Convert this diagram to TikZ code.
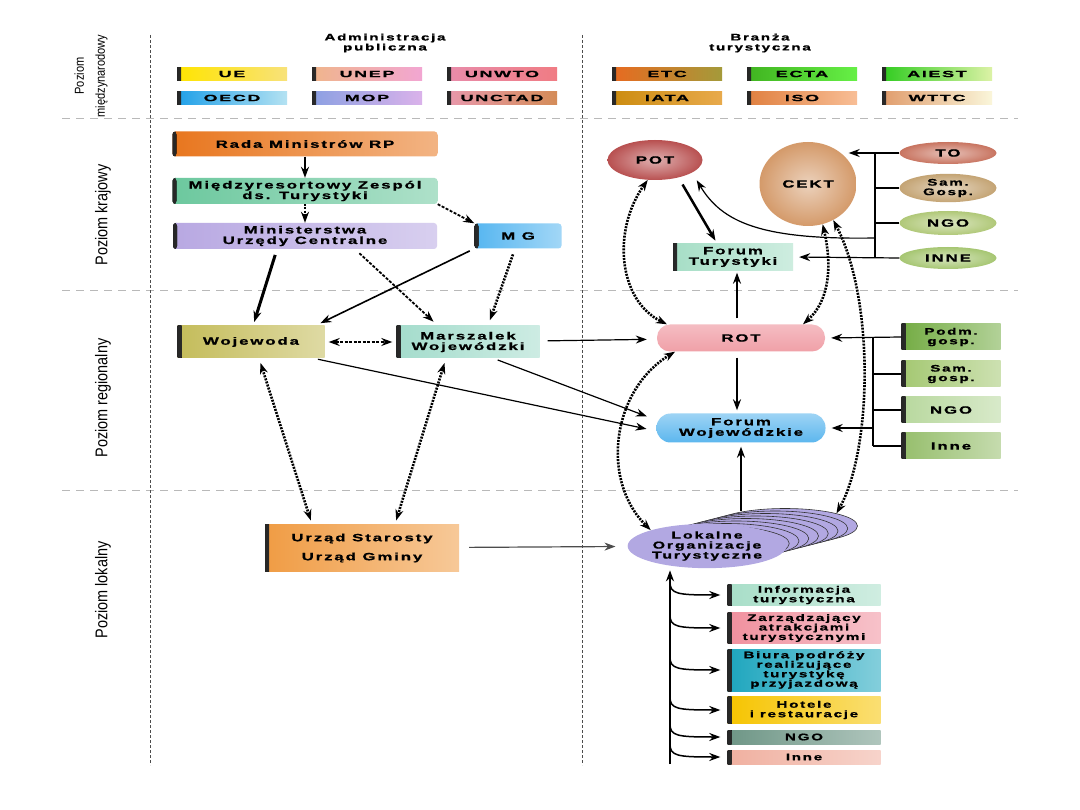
\documentclass[tikz,border=0pt]{standalone}
\usepackage{fontspec}
\setmainfont{Liberation Sans}[FakeStretch=1.6, LetterSpace=18, BoldFeatures={FakeBold=1}]
\newfontfamily\widefont{Liberation Sans}[FakeStretch=2.0, LetterSpace=18, BoldFeatures={FakeBold=1}]
\newfontfamily\sidefont{Liberation Sans}[FakeStretch=0.85]
\usetikzlibrary{shapes.geometric, arrows.meta}

% colours
\definecolor{ueA}{HTML}{FFE400}\definecolor{ueB}{HTML}{F8E27A}
\definecolor{unepA}{HTML}{F0B58C}\definecolor{unepB}{HTML}{F2A6D2}
\definecolor{unwtoA}{HTML}{E88CAA}\definecolor{unwtoB}{HTML}{F07C84}
\definecolor{oecdA}{HTML}{20A0E8}\definecolor{oecdB}{HTML}{B4E2F2}
\definecolor{mopA}{HTML}{8CA0E2}\definecolor{mopB}{HTML}{DAB2EA}
\definecolor{unctadA}{HTML}{E898AC}\definecolor{unctadB}{HTML}{D48C58}
\definecolor{etcA}{HTML}{E86A20}\definecolor{etcB}{HTML}{A49A3A}
\definecolor{ectaA}{HTML}{40B420}\definecolor{ectaB}{HTML}{66F046}
\definecolor{aiestA}{HTML}{30CC20}\definecolor{aiestB}{HTML}{DCF2A6}
\definecolor{iataA}{HTML}{CC8C10}\definecolor{iataB}{HTML}{E8AA4C}
\definecolor{isoA}{HTML}{E08040}\definecolor{isoB}{HTML}{F8BE96}
\definecolor{wttcA}{HTML}{E09C6C}\definecolor{wttcB}{HTML}{FAF6DA}
\definecolor{rada}{HTML}{E8761E}
\definecolor{zesp}{HTML}{6CC89E}
\definecolor{mini}{HTML}{B8A8E2}
\definecolor{mg}{HTML}{56B6F0}
\definecolor{woj}{HTML}{C4BC5A}
\definecolor{mar}{HTML}{A4DCCC}
\definecolor{urz}{HTML}{F09C44}
\definecolor{pot}{HTML}{B85050}
\definecolor{cekt}{HTML}{D49A6A}
\definecolor{to}{HTML}{C87460}
\definecolor{sg}{HTML}{C4A474}
\definecolor{ngo}{HTML}{B0C878}
\definecolor{inne}{HTML}{A6C672}
\definecolor{ft}{HTML}{A6DEC6}
\definecolor{rot}{HTML}{F0A0A8}
\definecolor{fw}{HTML}{5CB6EE}
\definecolor{podm}{HTML}{74AC44}
\definecolor{samg}{HTML}{A4C872}
\definecolor{ngob}{HTML}{B8D89E}
\definecolor{inneb}{HTML}{96BE6C}
\definecolor{lot}{HTML}{B2A8E2}
\definecolor{info}{HTML}{A8DEC8}
\definecolor{zarz}{HTML}{F0909E}
\definecolor{biur}{HTML}{1EA6BE}
\definecolor{hot}{HTML}{F6C400}
\definecolor{ngoc}{HTML}{6E9686}
\definecolor{innc}{HTML}{F0B0A0}

\begin{document}
\begin{tikzpicture}[x=1pt, y=-1pt, >={Stealth[length=11pt, width=8pt]},
    every node/.style={align=center, inner sep=1pt,
        font=\fontsize{10.5}{10.5}\selectfont\bfseries},
    gbox/.style 2 args={rectangle, left color=#1, right color=#2,
        path picture={\fill[left color=black!85, right color=#1]
            (path picture bounding box.south west) rectangle
            ([xshift=4pt]path picture bounding box.north west);}},
    panel/.style={gbox={#1}{#1!55!white}},
    intl/.style={minimum width=110pt, minimum height=13pt,
        font=\widefont\fontsize{9}{9}\selectfont\bfseries},
    oval/.style={ellipse, inner color=#1!45!white, outer color=#1},
    listbox/.style={panel=#1, minimum width=153pt,
        font=\fontsize{9.5}{9.5}\selectfont\bfseries},
    heavy/.style={->, line width=2.5pt},
    thinarr/.style={->, line width=1.2pt},
    dsh/.style={line width=2.6pt, dash pattern=on 2pt off 1.2pt},
    level/.style={draw=gray!55, line width=0.8pt, dash pattern=on 8pt off 6pt},
    vsep/.style={draw=black!70, line width=0.5pt, dash pattern=on 3pt off 2pt},
    sidelbl/.style={rotate=90, font=\sidefont\fontsize{17}{20}\selectfont}
]
\useasboundingbox (0,0) rectangle (1080,810);
\fill[white] (0,0) rectangle (1080,810);

% Level lines
\draw[level] (62,118) -- (1018,118);
\draw[level] (62,290) -- (1018,290);
\draw[level] (62,490) -- (1018,490);
\draw[vsep] (150,35) -- (150,765);
\draw[vsep] (582,35) -- (582,765);

% Level labels
\node[sidelbl, font=\sidefont\fontsize{13}{21}\selectfont] (pm) at (91,76) {Poziom\\międzynarodowy};
\node[sidelbl] (pk) at (103,215) {Poziom krajowy};
\node[sidelbl] (pr) at (103,398) {Poziom regionalny};
\node[sidelbl] (pl) at (103,590) {Poziom lokalny};

% Headers
\node[font=\fontsize{9.5}{10}\selectfont\bfseries] (ap) at (385,43) {Administracja\\publiczna};
\node[font=\fontsize{9.5}{10}\selectfont\bfseries] (bt) at (760,43) {Branża\\turystyczna};

% International level
\node[intl, gbox={ueA}{ueB}] (ue) at (232,74) {UE};
\node[intl, gbox={unepA}{unepB}] (unep) at (367,74) {UNEP};
\node[intl, gbox={unwtoA}{unwtoB}] (unwto) at (502,74) {UNWTO};
\node[intl, gbox={oecdA}{oecdB}] (oecd) at (232,98) {OECD};
\node[intl, gbox={mopA}{mopB}] (mop) at (367,98) {MOP};
\node[intl, gbox={unctadA}{unctadB}] (unctad) at (502,98) {UNCTAD};
\node[intl, gbox={etcA}{etcB}] (etc) at (667,74) {ETC};
\node[intl, gbox={ectaA}{ectaB}] (ecta) at (802,74) {ECTA};
\node[intl, gbox={aiestA}{aiestB}] (aiest) at (937,74) {AIEST};
\node[intl, gbox={iataA}{iataB}] (iata) at (667,98) {IATA};
\node[intl, gbox={isoA}{isoB}] (iso) at (802,98) {ISO};
\node[intl, gbox={wttcA}{wttcB}] (wttc) at (937,98) {WTTC};

% Public administration
\node[panel=rada, rounded corners=3pt, minimum width=265pt, minimum height=25pt] (rada) at (305,144) {Rada Ministrów RP};
\node[panel=zesp, rounded corners=3pt, minimum width=265pt, minimum height=26pt] (zesp) at (305,191) {Międzyresortowy Zespól\\ds. Turystyki};
\node[panel=mini, rounded corners=3pt, minimum width=264pt, minimum height=26pt] (mini) at (305,236) {Ministerstwa\\Urzędy Centralne};
\node[panel=mg, rounded corners=3pt, minimum width=87pt, minimum height=25pt] (mg) at (518,236) {M G};
\node[panel=woj, minimum width=147pt, minimum height=32pt] (woj) at (251,342) {Wojewoda};
\node[panel=mar, minimum width=143pt, minimum height=32pt] (mar) at (468,342) {Marszalek\\Wojewódzki};
\node[panel=urz, minimum width=194pt, minimum height=47pt, font=\fontsize{10.5}{19}\selectfont\bfseries] (urz) at (362,548) {Urząd Starosty\\Urząd Gminy};

% Tourism sector, national
\node[oval=pot, minimum width=95pt, minimum height=40pt] (pot) at (655,160) {POT};
\node[oval=cekt, minimum width=97pt, minimum height=84pt] (cekt) at (808,184) {CEKT};
\node[oval=to, minimum width=97pt, minimum height=22pt] (to) at (948,153) {TO};
\node[oval=sg, minimum width=97pt, minimum height=24pt, font=\fontsize{9.5}{9.5}\selectfont\bfseries] (sg) at (948,188) {Sam.\\Gosp.};
\node[oval=ngo, minimum width=97pt, minimum height=24pt] (ngo) at (948,223) {NGO};
\node[oval=inne, minimum width=97pt, minimum height=22pt] (inne) at (948,258) {INNE};
\node[panel=ft, minimum width=120pt, minimum height=27pt] (ft) at (733,257) {Forum\\Turystyki};

% Tourism sector, regional
\node[rectangle, rounded corners=13pt, top color=rot!70!white, bottom color=rot, minimum width=168pt, minimum height=27pt] (rot) at (741,338) {ROT};
\node[rectangle, rounded corners=14pt, top color=fw!60!white, bottom color=fw, minimum width=169pt, minimum height=29pt] (fw) at (741,428) {Forum\\Wojewódzkie};
\node[panel=podm, minimum width=99pt, minimum height=26pt, font=\fontsize{9.5}{9.5}\selectfont\bfseries] (podm) at (951,337) {Podm.\\gosp.};
\node[panel=samg, minimum width=99pt, minimum height=26pt, font=\fontsize{9.5}{9.5}\selectfont\bfseries] (samg) at (951,374) {Sam.\\gosp.};
\node[panel=ngob, minimum width=99pt, minimum height=26pt] (ngob) at (951,410) {NGO};
\node[panel=inneb, minimum width=99pt, minimum height=26pt] (inneb) at (951,446) {Inne};

% Tourism sector, local
\foreach \i in {8,...,1}
    \node[ellipse, fill=lot, draw=black!80, line width=0.6pt, minimum width=145pt, minimum height=35pt] (lotb\i) at (707+9.75*\i,546-2.5*\i) {};
\node[ellipse, fill=lot, minimum width=145pt, minimum height=35pt, font=\fontsize{10}{10}\selectfont\bfseries] (lot) at (707,546) {Lokalne\\Organizacje\\Turystyczne};
\node[listbox=info, minimum height=21pt] (info) at (804,595) {Informacja\\turystyczna};
\node[listbox=zarz, minimum height=31pt] (zarz) at (804,628) {Zarządzający\\atrakcjami\\turystycznymi};
\node[listbox=biur, minimum height=42pt] (biur) at (804,670) {Biura podróży\\realizujące\\turystykę\\przyjazdową};
\node[listbox=hot, minimum height=27pt] (hot) at (804,710) {Hotele\\i restauracje};
\node[listbox=ngoc, minimum height=14pt] (ngoc) at (804,737) {NGO};
\node[listbox=innc, minimum height=14pt] (innc) at (804,757) {Inne};

% Draw connections, administration
\draw[heavy] (rada) -- (zesp);
\draw[heavy, dash pattern=on 2pt off 1.2pt] (zesp) -- (mini);
\draw[->, line width=1.8pt, dash pattern=on 3pt off 1.5pt] (zesp.south east) -- (mg.north west);
\draw[->, line width=3pt, shorten <=6pt, shorten >=4pt] ([xshift=-28pt]mini.south) -- ([xshift=2pt]woj.north);
\draw[->, line width=1.8pt, dash pattern=on 3pt off 1.5pt, shorten <=6pt, shorten >=6pt] ([xshift=50pt]mini.south) -- ([xshift=-30pt]mar.north);
\draw[->, line width=1.6pt, shorten <=5pt, shorten >=6pt] (mg.south west) -- ([xshift=64pt]woj.north);
\draw[->, dsh, shorten <=6pt, shorten >=6pt] ([xshift=-3pt]mg.south) -- ([xshift=20pt]mar.north);
\draw[<->, line width=1.4pt, dash pattern=on 3pt off 1.5pt, shorten <=4pt, shorten >=4pt] (woj) -- (mar);
\draw[<->, dsh, shorten <=5pt, shorten >=4pt] ([xshift=8pt]woj.south) -- ([xshift=-50pt]urz.north);
\draw[<->, dsh, shorten <=5pt, shorten >=4pt] ([xshift=-22pt]mar.south) -- ([xshift=33pt]urz.north);
\draw[thinarr, shorten <=8pt, shorten >=10pt] (mar) -- (rot);
\draw[thinarr, shorten <=5pt, shorten >=10pt] ([xshift=62pt]woj.south) -- ([yshift=-3pt]fw.west);
\draw[thinarr, shorten <=5pt, shorten >=10pt] ([xshift=25pt]mar.south) -- ([yshift=8pt]fw.west);
\draw[thinarr, draw=black!70, shorten <=10pt, shorten >=12pt] (urz) -- (lot);

% Draw connections, tourism sector
\draw[heavy, shorten <=5pt, shorten >=3pt] ([xshift=25pt]pot.south) -- ([xshift=-16pt]ft.north);
\draw[heavy, shorten <=6pt, shorten >=2pt] ([xshift=-4pt]rot.north) -- ([xshift=4pt]ft.south);
\draw[heavy, shorten <=6pt, shorten >=3pt] ([xshift=-4pt]rot.south) -- ([xshift=-4pt]fw.north);
\draw[heavy, shorten >=4pt] (lotb7.north -| fw.south) -- (fw.south);
\draw[<->, dsh] (pot.250) .. controls (612,230) and (618,300) .. ([xshift=-74pt]rot.north);
\draw[<->, dsh] (cekt.290) .. controls (832,265) and (830,300) .. ([xshift=62pt]rot.north);
\draw[<->, dsh] (cekt.305) .. controls (875,300) and (872,450) .. (lotb8.north east);
\draw[<->, dsh] ([xshift=-66pt]rot.south) .. controls (612,390) and (600,480) .. (lot.north west);

% Bus lines
\coordinate (b1) at (875,153);
\coordinate (b5) at (875,238);
\coordinate (b4) at (875,258);
\draw[line width=2.4pt] (b1) -- (b4);
\draw[line width=1.2pt] (to.west) -- (b1);
\draw[line width=1.2pt] (sg.west) -- (sg.west -| b1);
\draw[line width=1.2pt] (ngo.west) -- (ngo.west -| b1);
\draw[thinarr] (b1) -- ([xshift=-8pt]b1 -| cekt.east);
\draw[thinarr, shorten >=6pt] (inne.west) -- (ft.east);
\draw[thinarr] (b5) .. controls (760,240) and (722,222) .. ([xshift=8pt, yshift=-6pt]pot.south east);

\coordinate (c1) at (873,337);
\coordinate (c5) at (873,428);
\coordinate (c4) at (873,446);
\draw[line width=2.4pt] (c1) -- (c4);
\draw[line width=1.2pt] (samg.west) -- (samg.west -| c1);
\draw[line width=1.2pt] (ngob.west) -- (ngob.west -| c1);
\draw[line width=1.2pt] (inneb.west) -- (c4);
\draw[thinarr, shorten >=6pt] (podm.west) -- (rot.east);
\draw[thinarr, shorten >=6pt] (c5) -- (fw.east);

% Local branches
\coordinate (l0) at (670,764);
\draw[heavy, shorten >=2pt] (l0) -- (lot.south -| l0);
\foreach \n in {info, zarz, biur, hot, ngoc, innc}
    \draw[->, line width=1.5pt] ([yshift=13pt]\n.west -| l0) .. controls ([yshift=1pt]\n.west -| l0) and ([xshift=-50pt]\n.west) .. ([xshift=-7pt]\n.west);
\end{tikzpicture}
\end{document}
